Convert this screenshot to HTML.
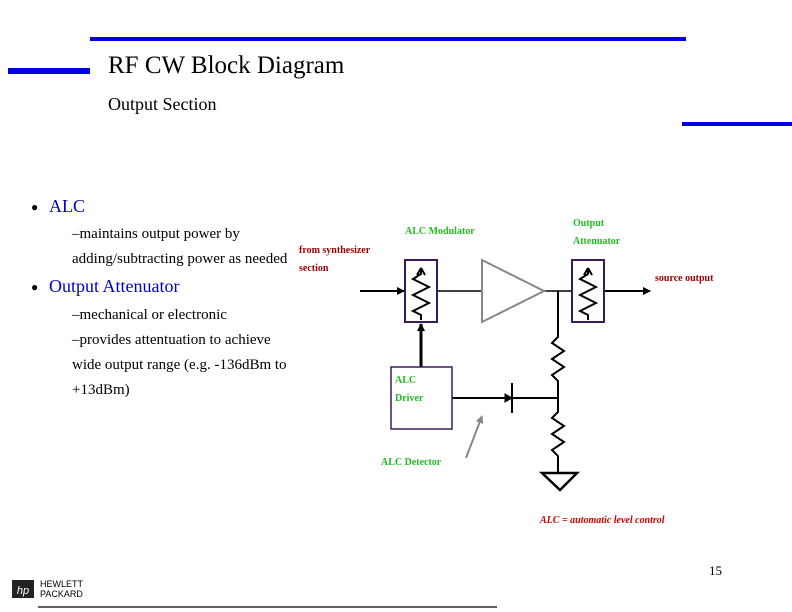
<!DOCTYPE html>
<html><head><meta charset="utf-8"><style>
body{margin:0;width:792px;height:612px;background:#fff;position:relative;overflow:hidden;font-family:"Liberation Serif",serif}
.a{position:absolute;white-space:nowrap}
.g{color:#22bb22;font-size:10px;font-weight:bold;font-family:"Liberation Serif",serif}
.r{color:#990000;font-size:10px;font-weight:bold}
.t{font-size:15px;color:#000}
</style></head><body>
<div class="a" style="left:90px;top:37px;width:596px;height:4px;background:#0000e0"></div>
<div class="a" style="left:8px;top:68px;width:82px;height:6px;background:#0000e0"></div>
<div class="a" style="left:682px;top:122px;width:110px;height:4px;background:#0000e0"></div>
<div class="a" style="left:108px;top:52px;font-size:25px">RF CW Block Diagram</div>
<div class="a" style="left:108px;top:94px;font-size:18px">Output Section</div>
<div class="a" style="left:31px;top:200px;font-size:12px">●</div>
<div class="a" style="left:49px;top:196px;font-size:18px;color:#0000cc">ALC</div>
<div class="a t" style="left:72px;top:226px">–maintains output power by</div>
<div class="a t" style="left:72px;top:251px">adding/subtracting power as needed</div>
<div class="a" style="left:31px;top:280px;font-size:12px">●</div>
<div class="a" style="left:49px;top:276px;font-size:18px;color:#0000cc">Output Attenuator</div>
<div class="a t" style="left:72px;top:307px">–mechanical or electronic</div>
<div class="a t" style="left:72px;top:332px">–provides attentuation to achieve</div>
<div class="a t" style="left:72px;top:357px">wide output range (e.g. -136dBm to</div>
<div class="a t" style="left:72px;top:382px">+13dBm)</div>
<div class="a r" style="left:299px;top:245px">from synthesizer</div>
<div class="a r" style="left:299px;top:263px">section</div>
<div class="a r" style="left:655px;top:273px">source output</div>
<div class="a g" style="left:405px;top:226px">ALC Modulator</div>
<div class="a g" style="left:573px;top:218px">Output</div>
<div class="a g" style="left:573px;top:236px">Attenuator</div>
<div class="a g" style="left:395px;top:375px">ALC</div>
<div class="a g" style="left:395px;top:393px">Driver</div>
<div class="a g" style="left:381px;top:457px">ALC Detector</div>
<div class="a" style="left:540px;top:515px;color:#cc0000;font-size:10px;font-weight:bold;font-style:italic">ALC = automatic level control</div>
<svg class="a" style="left:0;top:0" width="792" height="612">
<defs><marker id="ar" markerWidth="8" markerHeight="8" refX="7" refY="4" orient="auto" markerUnits="userSpaceOnUse"><path d="M0,0 L8,4 L0,8z" fill="#000"/></marker>
<marker id="ag" markerWidth="8" markerHeight="8" refX="7" refY="4" orient="auto" markerUnits="userSpaceOnUse"><path d="M0,0 L8,4 L0,8z" fill="#888"/></marker></defs>
<g stroke="#000" fill="none">
<line x1="360" y1="291" x2="404" y2="291" stroke-width="2" marker-end="url(#ar)"/>
<line x1="437" y1="291" x2="482" y2="291" stroke-width="1.5"/>
<line x1="544" y1="291" x2="572" y2="291" stroke-width="1.5"/>
<line x1="604" y1="291" x2="650" y2="291" stroke-width="2" marker-end="url(#ar)"/>
<line x1="421" y1="367" x2="421" y2="324" stroke-width="3" marker-end="url(#ar)"/>
<path d="M558,291 V337 l-6,6 12,8 -12,8 12,8 -12,8 6,6 V398 V412 l-6,6 12,8 -12,8 12,8 -12,8 6,6 V473" stroke-width="2"/>
<path d="M542,473 H577 L560,490 Z" stroke-width="2.5"/>
<line x1="452" y1="398" x2="558" y2="398" stroke-width="2"/>
<line x1="512" y1="383" x2="512" y2="413" stroke-width="2"/>
<path d="M505,394 L512,398 L505,402z" fill="#000"/>
<path d="M421,270 v4 l-8,5 16,8 -16,8 16,8 -16,8 8,4 v5 M421,268 l-4,7 M421,268 l4,7" stroke-width="2"/>
<path d="M588,270 v4 l-8,5 16,8 -16,8 16,8 -16,8 8,4 v5 M588,268 l-4,7 M588,268 l4,7" stroke-width="2"/>
</g>
<rect x="405" y="260" width="32" height="62" fill="none" stroke="#3a1a5a" stroke-width="2"/>
<rect x="572" y="260" width="32" height="62" fill="none" stroke="#3a1a5a" stroke-width="2"/>
<rect x="391" y="367" width="61" height="62" fill="none" stroke="#3a1a5a" stroke-width="1.5"/>
<path d="M482,260 L544,291 L482,322 Z" fill="none" stroke="#888" stroke-width="2"/>
<line x1="466" y1="458" x2="482" y2="416" stroke="#888" stroke-width="2" marker-end="url(#ag)"/>
<line x1="38" y1="607" x2="497" y2="607" stroke="#000" stroke-width="1.2"/>
<rect x="12" y="580" width="22" height="18" fill="#222"/>
<text x="23" y="594" font-size="11" fill="#fff" text-anchor="middle" font-style="italic" font-family="Liberation Sans">hp</text>
</svg>
<div class="a" style="left:40px;top:579px;font-family:'Liberation Sans',sans-serif;font-size:9px;line-height:10px">HEWLETT<br>PACKARD</div>
<div class="a" style="left:709px;top:563px;font-size:13px">15</div>
</body></html>
